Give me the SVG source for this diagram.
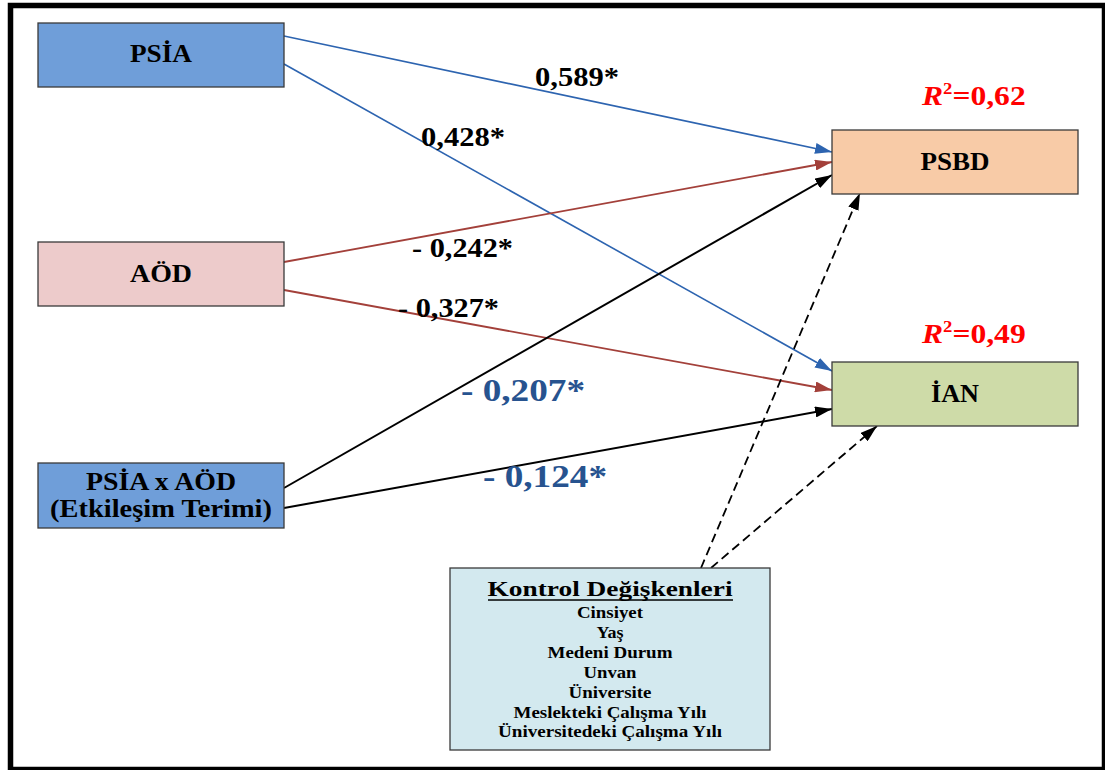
<svg xmlns="http://www.w3.org/2000/svg" width="1105" height="770" viewBox="0 0 1105 770">
  <style>
    .box { stroke: #3a3a3a; stroke-width: 1.3; }
    .lbl { font-family: "Liberation Serif", "Times New Roman", serif; font-weight: bold; fill: #000; }
    .node { font-size: 26px; text-anchor: middle; }
    .coef { font-size: 28px; }
    .coefb { font-size: 32px; fill: #27538f; }
    .r2 { font-size: 27px; fill: #ff0000; }
    .ctl { font-size: 16px; text-anchor: middle; }
    .blue { stroke: #2d64b0; stroke-width: 1.6; fill: none; marker-end: url(#ahBlue); }
    .red { stroke: #a3403a; stroke-width: 1.8; fill: none; marker-end: url(#ahRed); }
    .blk { stroke: #000; stroke-width: 2; fill: none; marker-end: url(#ahBlack); }
    .dash { stroke: #000; stroke-width: 1.8; fill: none; stroke-dasharray: 9 5; marker-end: url(#ahBlack); }
  </style>
  <defs>
    <marker id="ahBlue" markerUnits="userSpaceOnUse" markerWidth="17" markerHeight="11" refX="17" refY="5.5" orient="auto">
      <path d="M0,0 L17,5.5 L0,11 z" fill="#2d64b0"/>
    </marker>
    <marker id="ahRed" markerUnits="userSpaceOnUse" markerWidth="17" markerHeight="11" refX="17" refY="5.5" orient="auto">
      <path d="M0,0 L17,5.5 L0,11 z" fill="#a3403a"/>
    </marker>
    <marker id="ahBlack" markerUnits="userSpaceOnUse" markerWidth="17" markerHeight="11" refX="17" refY="5.5" orient="auto">
      <path d="M0,0 L17,5.5 L0,11 z" fill="#000"/>
    </marker>
  </defs>

  <rect width="1105" height="770" fill="#fff"/>
  <!-- outer frame -->
  <rect x="10.5" y="5.5" width="1094" height="764" fill="none" stroke="#000" stroke-width="5.5"/>

  <!-- connectors -->
  <g id="connectors">
    <path class="blue" d="M284,36 L832,152"/>
    <path class="blue" d="M284,64 L832,371"/>
    <path class="red" d="M284,262 L832,162"/>
    <path class="red" d="M284,290 L832,390"/>
    <path class="blk" d="M284,488 L832,175"/>
    <path class="blk" d="M284,508 L832,409"/>
    <path class="dash" d="M701,568 L860,193"/>
    <path class="dash" d="M711,568 L877,426"/>
  </g>

  <!-- path coefficients -->
  <g id="coefficients">
    <text class="lbl coef" x="535" y="86" textLength="84" lengthAdjust="spacingAndGlyphs">0,589*</text>
    <text class="lbl coef" x="421" y="146" textLength="84" lengthAdjust="spacingAndGlyphs">0,428*</text>
    <text class="lbl coef" x="412" y="257" textLength="101" lengthAdjust="spacingAndGlyphs">- 0,242*</text>
    <text class="lbl coef" x="398" y="317" textLength="101" lengthAdjust="spacingAndGlyphs">- 0,327*</text>
    <text class="lbl coefb" x="461" y="401" textLength="124" lengthAdjust="spacingAndGlyphs">- 0,207*</text>
    <text class="lbl coefb" x="483" y="487" textLength="124" lengthAdjust="spacingAndGlyphs">- 0,124*</text>
  </g>

  <g id="node-psia">
    <rect class="box" x="38" y="23" width="246" height="64" fill="#6f9ed9"/>
    <text class="lbl node" x="161" y="62" textLength="62" lengthAdjust="spacingAndGlyphs">PSİA</text>
  </g>

  <g id="node-aod">
    <rect class="box" x="38" y="242" width="246" height="64" fill="#edcbcb"/>
    <text class="lbl node" x="161" y="282" textLength="62" lengthAdjust="spacingAndGlyphs">AÖD</text>
  </g>

  <g id="node-interaction">
    <rect class="box" x="38" y="463" width="246" height="65" fill="#6f9ed9"/>
    <text class="lbl node" x="161" y="490" textLength="150" lengthAdjust="spacingAndGlyphs">PSİA x AÖD</text>
    <text class="lbl node" x="161" y="517" textLength="222" lengthAdjust="spacingAndGlyphs">(Etkileşim Terimi)</text>
  </g>

  <g id="node-psbd">
    <rect class="box" x="832" y="130" width="246" height="64" fill="#f8cba7"/>
    <text class="lbl node" x="955" y="170" textLength="69" lengthAdjust="spacingAndGlyphs">PSBD</text>
    <text class="lbl r2" transform="translate(922,105) scale(1.17,1)"><tspan font-style="italic">R</tspan><tspan dy="-11" font-size="16">2</tspan><tspan dy="11">=0,62</tspan></text>
  </g>

  <g id="node-ian">
    <rect class="box" x="832" y="362" width="246" height="64" fill="#cedba8"/>
    <text class="lbl node" x="955" y="402" textLength="48" lengthAdjust="spacingAndGlyphs">İAN</text>
    <text class="lbl r2" transform="translate(922,343) scale(1.17,1)"><tspan font-style="italic">R</tspan><tspan dy="-11" font-size="16">2</tspan><tspan dy="11">=0,49</tspan></text>
  </g>

  <g id="node-controls">
    <rect class="box" x="450" y="568" width="320" height="182" fill="#d3e9ef"/>
    <text class="lbl" x="610" y="596" font-size="21" text-anchor="middle" textLength="245" lengthAdjust="spacingAndGlyphs">Kontrol Değişkenleri</text>
    <line x1="488" y1="600" x2="733" y2="600" stroke="#000" stroke-width="1.6"/>
    <text class="lbl ctl" x="610" y="618" textLength="66" lengthAdjust="spacingAndGlyphs">Cinsiyet</text>
    <text class="lbl ctl" x="610" y="638" textLength="27" lengthAdjust="spacingAndGlyphs">Yaş</text>
    <text class="lbl ctl" x="610" y="658" textLength="125" lengthAdjust="spacingAndGlyphs">Medeni Durum</text>
    <text class="lbl ctl" x="610" y="678" textLength="53" lengthAdjust="spacingAndGlyphs">Unvan</text>
    <text class="lbl ctl" x="610" y="698" textLength="83" lengthAdjust="spacingAndGlyphs">Üniversite</text>
    <text class="lbl ctl" x="610" y="718" textLength="193" lengthAdjust="spacingAndGlyphs">Meslekteki Çalışma Yılı</text>
    <text class="lbl ctl" x="610" y="737" textLength="224" lengthAdjust="spacingAndGlyphs">Üniversitedeki Çalışma Yılı</text>
  </g>
</svg>
